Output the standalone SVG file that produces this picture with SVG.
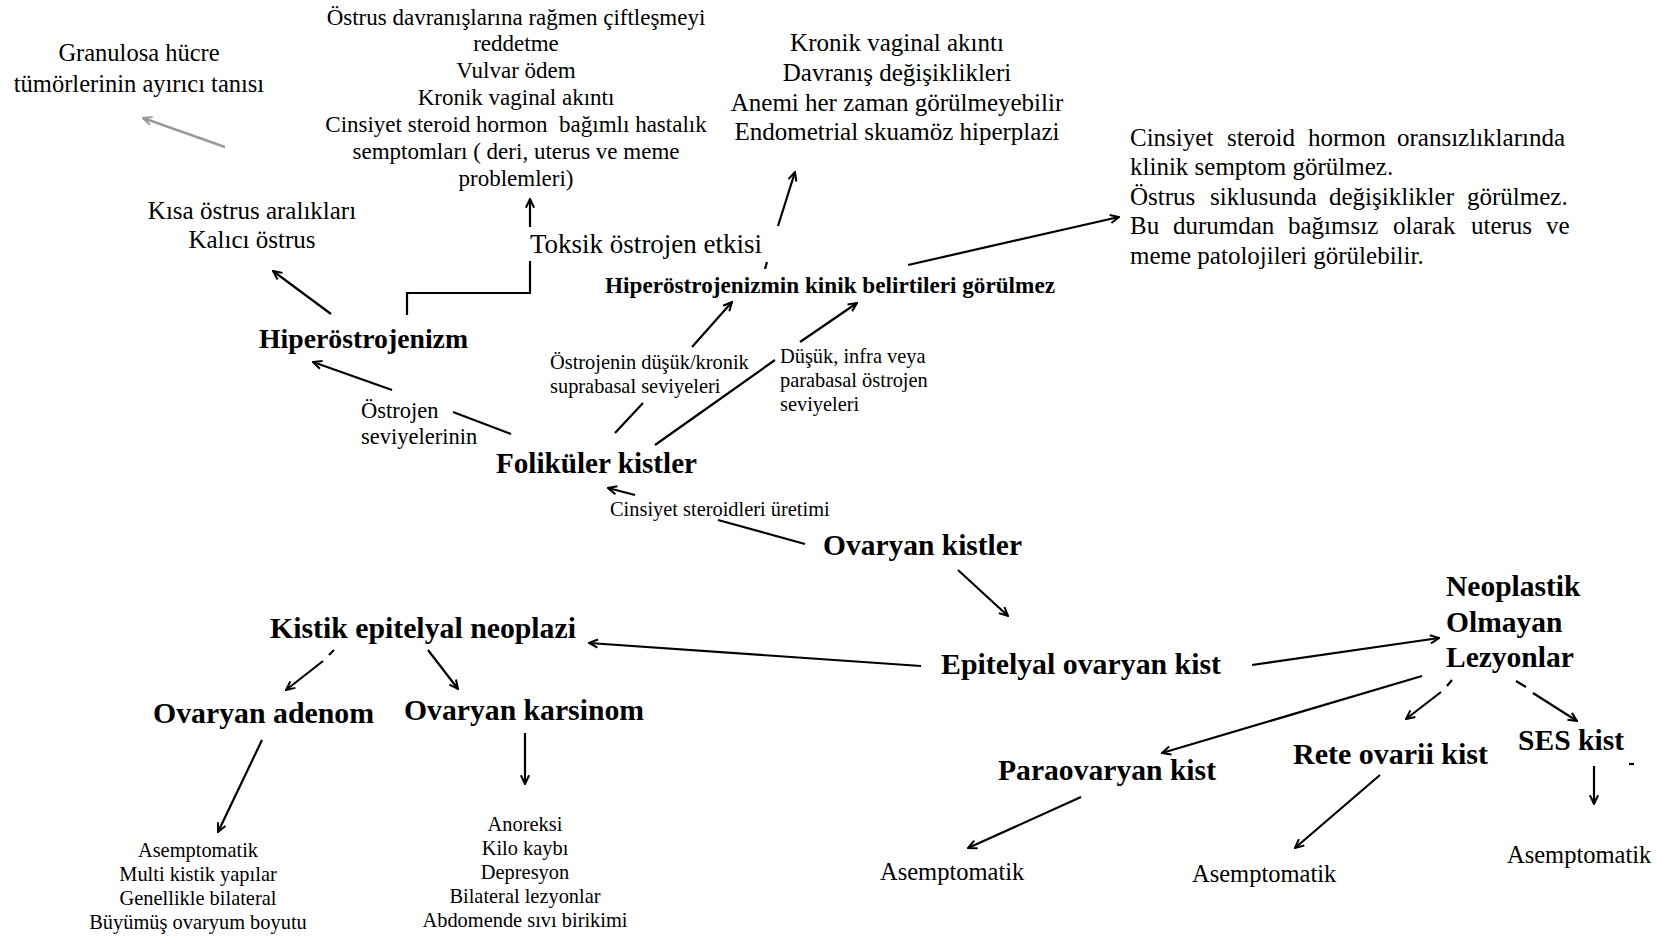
<svg xmlns="http://www.w3.org/2000/svg" width="1663" height="936" viewBox="0 0 1663 936">
<defs>
<style>
text{font-family:"Liberation Serif","Times New Roman",serif;fill:#000}
.b{font-weight:bold}
.c{text-anchor:middle}
.f29{font-size:29.5px}
.f25{font-size:25px}
.f23{font-size:23px}
.f20{font-size:20.4px}
.ln{fill:none;stroke:#000;stroke-width:2.2}
.ar{fill:none;stroke:#000;stroke-width:2.2;marker-end:url(#ah)}
.gr{fill:none;stroke:#9a9a9a;stroke-width:2.4;marker-end:url(#ahg)}
</style>
<marker id="ah" viewBox="0 0 12 12" refX="11" refY="6" markerWidth="11" markerHeight="11" markerUnits="userSpaceOnUse" orient="auto">
<path d="M1.5,1.5 L11,6 L1.5,10.5" fill="none" stroke="#000" stroke-width="2.2"/>
</marker>
<marker id="ahg" viewBox="0 0 12 12" refX="11" refY="6" markerWidth="11" markerHeight="11" markerUnits="userSpaceOnUse" orient="auto">
<path d="M1.5,1.5 L11,6 L1.5,10.5" fill="none" stroke="#9a9a9a" stroke-width="2.2"/>
</marker>
</defs>
<rect width="1663" height="936" fill="#fff"/>

<g id="connectors">
<line class="gr" x1="225" y1="147" x2="143" y2="118"/>
<line class="ar" x1="331" y1="314" x2="273" y2="271"/>
<polyline class="ln" points="407,315 407,293 530,293 530,261"/>
<line class="ar" x1="530" y1="227" x2="530" y2="199"/>
<line class="ln" x1="767" y1="262" x2="765" y2="269"/>
<line class="ar" x1="778" y1="226" x2="795" y2="172"/>
<line class="ar" x1="908" y1="265" x2="1119" y2="217"/>
<line class="ar" x1="392" y1="390" x2="313" y2="362"/>
<line class="ln" x1="511" y1="434" x2="453" y2="412"/>
<line class="ln" x1="615" y1="433" x2="643" y2="403"/>
<line class="ar" x1="692" y1="347" x2="732" y2="302"/>
<line class="ln" x1="655" y1="445" x2="775" y2="360"/>
<line class="ar" x1="800" y1="342" x2="857" y2="303"/>
<line class="ln" x1="805" y1="544" x2="718" y2="520"/>
<line class="ar" x1="635" y1="495" x2="608" y2="488"/>
<line class="ar" x1="958" y1="570" x2="1008" y2="616"/>
<line class="ar" x1="921" y1="666" x2="589" y2="643"/>
<line class="ar" x1="1252" y1="665" x2="1439" y2="638"/>
<line class="ln" x1="334" y1="650" x2="329" y2="655"/>
<line class="ar" x1="323" y1="661" x2="286" y2="690"/>
<line class="ar" x1="428" y1="650" x2="458" y2="689"/>
<line class="ar" x1="262" y1="740" x2="218" y2="832"/>
<line class="ar" x1="525" y1="733" x2="525" y2="784"/>
<line class="ar" x1="1422" y1="676" x2="1162" y2="753"/>
<line class="ln" x1="1452" y1="680" x2="1447" y2="686"/>
<line class="ar" x1="1441" y1="692" x2="1406" y2="719"/>
<line class="ln" x1="1516" y1="681" x2="1526" y2="687"/>
<line class="ar" x1="1533" y1="693" x2="1577" y2="721"/>
<line class="ar" x1="1594" y1="766" x2="1594" y2="804"/>
<line class="ar" x1="1081" y1="797" x2="968" y2="848"/>
<line class="ar" x1="1380" y1="775" x2="1295" y2="848"/>
<line class="ln" x1="1629" y1="764" x2="1634" y2="764"/>
</g>

<g id="granulosa">
<text class="c" x="139" y="61" style="font-size:24.5px">Granulosa hücre</text>
<text class="c" x="139" y="92" style="font-size:24.5px">tümörlerinin ayırıcı tanısı</text>
</g>

<g id="toksik-belirtiler">
<text class="c f23" x="516" y="25">Östrus davranışlarına rağmen çiftleşmeyi</text>
<text class="c f23" x="516" y="51">reddetme</text>
<text class="c f23" x="516" y="78">Vulvar ödem</text>
<text class="c f23" x="516" y="105">Kronik vaginal akıntı</text>
<text class="c f23" x="516" y="132" style="white-space:pre">Cinsiyet steroid hormon  bağımlı hastalık</text>
<text class="c f23" x="516" y="159">semptomları ( deri, uterus ve meme</text>
<text class="c f23" x="516" y="186">problemleri)</text>
</g>

<g id="kronik-blok">
<text class="c f25" x="897" y="51">Kronik vaginal akıntı</text>
<text class="c f25" x="897" y="81">Davranış değişiklikleri</text>
<text class="c f25" x="897" y="111">Anemi her zaman görülmeyebilir</text>
<text class="c f25" x="897" y="140">Endometrial skuamöz hiperplazi</text>
</g>

<g id="sag-blok">
<text class="f25" y="146"><tspan x="1130">Cinsiyet</tspan><tspan x="1227">steroid</tspan><tspan x="1308">hormon</tspan><tspan x="1397">oransızlıklarında</tspan></text>
<text class="f25" x="1130" y="175">klinik semptom görülmez.</text>
<text class="f25" y="205"><tspan x="1130">Östrus</tspan><tspan x="1210">siklusunda</tspan><tspan x="1329">değişiklikler</tspan><tspan x="1467">görülmez.</tspan></text>
<text class="f25" y="234"><tspan x="1130">Bu</tspan><tspan x="1173">durumdan</tspan><tspan x="1288">bağımsız</tspan><tspan x="1393">olarak</tspan><tspan x="1471">uterus</tspan><tspan x="1546">ve</tspan></text>
<text class="f25" x="1130" y="264">meme patolojileri görülebilir.</text>
</g>

<g id="kisa-ostrus">
<text class="c f25" x="252" y="219">Kısa östrus aralıkları</text>
<text class="c f25" x="252" y="248">Kalıcı östrus</text>
</g>

<g id="toksik">
<text x="530" y="253" style="font-size:27px">Toksik östrojen etkisi</text>
</g>

<g id="hiper-kinik">
<text class="b" x="605" y="293" style="font-size:23px" textLength="450" lengthAdjust="spacingAndGlyphs">Hiperöstrojenizmin kinik belirtileri görülmez</text>
</g>

<g id="hiperostrojenizm">
<text class="b" x="259" y="348" style="font-size:28px" textLength="209" lengthAdjust="spacingAndGlyphs">Hiperöstrojenizm</text>
</g>

<g id="lbl-ostrojen">
<text x="361" y="418" style="font-size:22.5px">Östrojen</text>
<text x="361" y="444" style="font-size:22.5px">seviyelerinin</text>
</g>

<g id="lbl-ostrojenin">
<text class="f20" x="550" y="369">Östrojenin düşük/kronik</text>
<text class="f20" x="550" y="393">suprabasal seviyeleri</text>
</g>

<g id="lbl-dusuk">
<text class="f20" x="780" y="363">Düşük, infra veya</text>
<text class="f20" x="780" y="387">parabasal östrojen</text>
<text class="f20" x="780" y="411">seviyeleri</text>
</g>

<g id="folikuler">
<text class="b" x="496" y="473" style="font-size:29px" textLength="201" lengthAdjust="spacingAndGlyphs">Foliküler kistler</text>
</g>

<g id="lbl-cinsiyet">
<text class="f20" x="610" y="516">Cinsiyet steroidleri üretimi</text>
</g>

<g id="ovaryan-kistler">
<text class="b f29" x="823" y="555" textLength="199" lengthAdjust="spacingAndGlyphs">Ovaryan kistler</text>
</g>

<g id="epitelyal">
<text class="b f29" x="941" y="674" textLength="280" lengthAdjust="spacingAndGlyphs">Epitelyal ovaryan kist</text>
</g>

<g id="kistik">
<text class="b f29" x="270" y="638" textLength="306" lengthAdjust="spacingAndGlyphs">Kistik epitelyal neoplazi</text>
</g>

<g id="adenom">
<text class="b f29" x="153" y="723" textLength="221" lengthAdjust="spacingAndGlyphs">Ovaryan adenom</text>
</g>

<g id="karsinom">
<text class="b f29" x="404" y="720" textLength="240" lengthAdjust="spacingAndGlyphs">Ovaryan karsinom</text>
</g>

<g id="neoplastik">
<text class="b f29" x="1446" y="596">Neoplastik</text>
<text class="b f29" x="1446" y="632">Olmayan</text>
<text class="b f29" x="1446" y="667">Lezyonlar</text>
</g>

<g id="paraovaryan">
<text class="b f29" x="998" y="780" textLength="218" lengthAdjust="spacingAndGlyphs">Paraovaryan kist</text>
</g>

<g id="rete">
<text class="b f29" x="1293" y="764" textLength="195" lengthAdjust="spacingAndGlyphs">Rete ovarii kist</text>
</g>

<g id="ses">
<text class="b f29" x="1518" y="750" textLength="106" lengthAdjust="spacingAndGlyphs">SES kist</text>
</g>

<g id="adenom-bulgular">
<text class="c f20" x="198" y="857">Asemptomatik</text>
<text class="c f20" x="198" y="881">Multi kistik yapılar</text>
<text class="c f20" x="198" y="905">Genellikle bilateral</text>
<text class="c f20" x="198" y="929">Büyümüş ovaryum boyutu</text>
</g>

<g id="karsinom-bulgular">
<text class="c f20" x="525" y="831">Anoreksi</text>
<text class="c f20" x="525" y="855">Kilo kaybı</text>
<text class="c f20" x="525" y="879">Depresyon</text>
<text class="c f20" x="525" y="903">Bilateral lezyonlar</text>
<text class="c f20" x="525" y="927">Abdomende sıvı birikimi</text>
</g>

<g id="asemptomatik-para">
<text x="880" y="880" style="font-size:24.5px">Asemptomatik</text>
</g>
<g id="asemptomatik-rete">
<text x="1192" y="882" style="font-size:24.5px">Asemptomatik</text>
</g>
<g id="asemptomatik-ses">
<text x="1507" y="863" style="font-size:24.5px">Asemptomatik</text>
</g>
</svg>
